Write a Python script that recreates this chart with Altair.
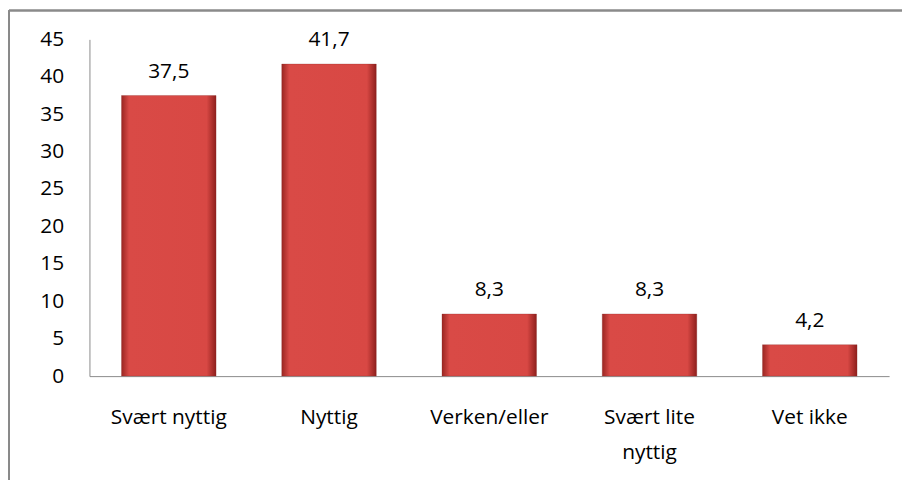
import altair as alt
import pandas as pd

categories = ["Svært nyttig", "Nyttig", "Verken/eller", "Svært lite nyttig", "Vet ikke"]
values = [37.5, 41.7, 8.3, 8.3, 4.2]
y_ticks = [0, 5, 10, 15, 20, 25, 30, 35, 40, 45]

df = pd.DataFrame({"cat": categories, "v": values})

FONT = "Open Sans"
FS = 21
grad = alt.LinearGradient(
    gradient="linear", x1=0, x2=1, y1=0, y2=0,
    stops=[
        alt.GradientStop(color="#9a2622", offset=0),
        alt.GradientStop(color="#d94a46", offset=0.08),
        alt.GradientStop(color="#d84844", offset=0.9),
        alt.GradientStop(color="#8e1f1c", offset=1),
    ],
)

x = alt.X("cat:N", sort=categories, title=None,
          scale=alt.Scale(paddingInner=0.41, paddingOuter=0.2),
          axis=alt.Axis(labelAngle=0, tickSize=0, labelPadding=31, labelFontSize=FS,
                        labelFont=FONT, labelColor="#000000", domainColor="#8a8a8a",
                        labelLineHeight=35, labelLimit=300, labelOverlap=False,
                        labelExpr="datum.label == 'Svært lite nyttig' ? ['Svært lite', 'nyttig'] : datum.label"))
y = alt.Y("v:Q", title=None,
          scale=alt.Scale(domain=[0, 45], nice=False),
          axis=alt.Axis(values=y_ticks, tickSize=0, labelPadding=26, labelFontSize=FS,
                        labelFont=FONT, labelColor="#000000", domainColor="#8a8a8a",
                        grid=False, labelOverlap=False, labelBound=False))

bars = alt.Chart(df).mark_bar(color=grad, stroke="#8a2b28", strokeWidth=0.5, strokeOpacity=0.6).encode(x=x, y=y)

labels = alt.Chart(df).transform_calculate(
    t="replace(format(datum.v, '.1f'), '.', ',')"
).mark_text(dy=-24, fontSize=FS, font=FONT, color="#000000").encode(
    x=x, y=y, text="t:N")

frame_left = alt.Chart(df).mark_rule(color="#8a8a8a", strokeWidth=1.5).encode(
    x=alt.value(-81), y=alt.value(-29), y2=alt.value(480))
frame_top = alt.Chart(df).mark_rule(color="#8a8a8a", strokeWidth=1.5).encode(
    x=alt.value(-81), x2=alt.value(830), y=alt.value(-29))

chart = alt.layer(frame_left, frame_top, bars, labels).properties(
    width=805, height=339,
    autosize=alt.AutoSizeParams(type="none"),
    padding={"left": 82, "top": 30, "right": 13, "bottom": 103},
).configure(font=FONT, view=alt.ViewConfig(stroke=None))

chart.save("out.html", embed_options={"renderer": "svg", "actions": False})
